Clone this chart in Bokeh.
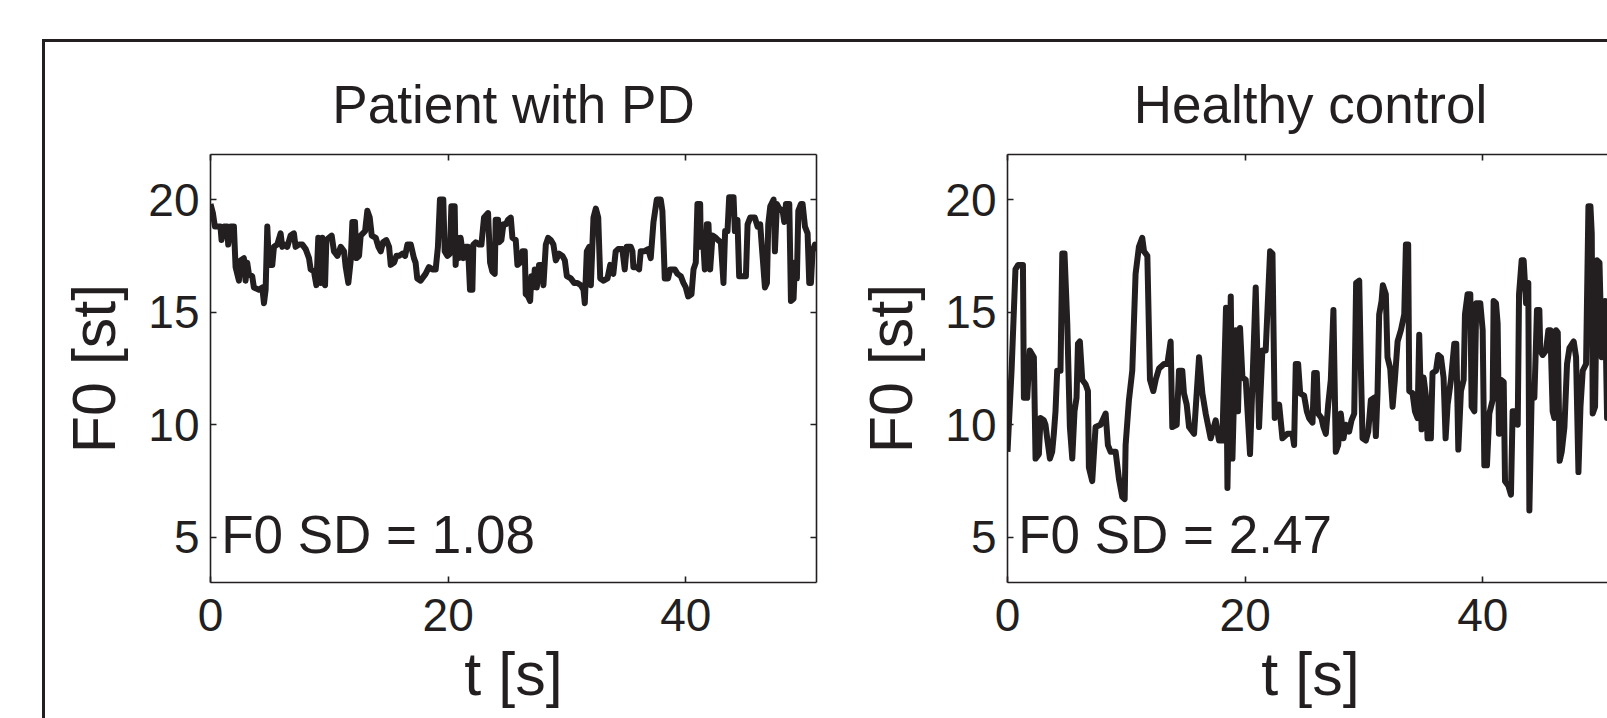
from bokeh.plotting import figure
from bokeh.layouts import row, column
from bokeh.models import (Range1d, LinearAxis, FixedTicker, Title, Spacer, Row,
                          GlobalInlineStyleSheet, ColumnDataSource)
from bokeh.core.properties import value
from bokeh.embed import file_html
from bokeh.resources import INLINE

INK = "#231f20"
FONT = "Liberation Sans"

# ---------------- data ----------------
x_ticks = [0, 20, 40]
y_ticks = [5, 10, 15, 20]
panel_titles = ["Patient with PD", "Healthy control"]
sd_texts = ["F0 SD = 1.08", "F0 SD = 2.47"]
x_label = "t [s]"
y_label = "F0 [st]"

pd_t = [0.0, 0.2, 0.37, 0.84, 0.93, 1.12, 1.41, 1.49, 1.69, 1.97,
        2.11, 2.39, 2.53, 2.81, 2.95, 3.09, 3.23, 3.51, 3.65, 4.07,
        4.36, 4.5, 4.64, 4.78, 4.92, 5.2, 5.34, 5.62, 5.9, 6.04,
        6.32, 6.46, 6.74, 7.02, 7.16, 7.45, 7.73, 8.01, 8.29, 8.43,
        8.71, 8.91, 9.07, 9.27, 9.41, 9.64, 9.75, 9.97, 10.2, 10.39,
        10.68, 10.96, 11.24, 11.38, 11.6, 11.8, 11.94, 12.16, 12.28, 12.5,
        12.64, 13.01, 13.2, 13.4, 13.57, 13.91, 14.13, 14.33, 14.52, 14.8,
        15.03, 15.17, 15.45, 15.65, 15.87, 16.15, 16.38, 16.57, 16.86, 17.12,
        17.26, 17.4, 17.68, 17.82, 18.1, 18.38, 18.67, 18.95, 19.14, 19.31,
        19.59, 19.71, 19.93, 20.15, 20.27, 20.55, 20.63, 20.77, 20.91, 21.05,
        21.28, 21.47, 21.67, 21.84, 22.04, 22.12, 22.32, 22.6, 22.8, 23.02,
        23.36, 23.53, 23.72, 23.92, 24.0, 24.2, 24.28, 24.48, 24.65, 24.85,
        25.04, 25.27, 25.41, 25.69, 25.83, 26.05, 26.25, 26.45, 26.53, 26.73,
        26.9, 27.01, 27.18, 27.29, 27.46, 27.65, 27.85, 28.02, 28.22, 28.41,
        28.64, 28.86, 29.06, 29.34, 29.62, 29.82, 29.99, 30.32, 30.6, 30.88,
        31.17, 31.39, 31.5, 31.67, 31.87, 32.01, 32.23, 32.43, 32.63, 32.8,
        33.08, 33.41, 33.64, 33.9, 34.1, 34.3, 34.66, 34.86, 35.03, 35.37,
        35.51, 35.59, 35.87, 36.07, 36.21, 36.49, 36.83, 37.05, 37.28, 37.56,
        37.89, 38.03, 38.12, 38.23, 38.51, 38.68, 39.07, 39.3, 39.58, 39.8,
        40.0, 40.2, 40.48, 40.65, 40.84, 40.98, 41.21, 41.26, 41.49, 41.6,
        41.77, 41.91, 42.05, 42.25, 42.53, 42.72, 42.95, 43.17, 43.31, 43.51,
        43.65, 44.02, 44.13, 44.35, 44.49, 45.06, 45.2, 45.42, 45.81, 46.04,
        46.26, 46.46, 46.66, 46.83, 46.94, 47.11, 47.39, 47.5, 47.67, 47.87,
        48.15, 48.29, 48.43, 48.71, 48.85, 49.07, 49.19, 49.35, 49.47, 49.69,
        49.83, 50.03, 50.25, 50.39, 50.53, 50.67, 50.87, 51.0]
pd_f0 = [19.8, 19.4, 18.8, 18.8, 18.2, 18.8, 18.8, 18.0, 18.8, 18.8,
         17.0, 16.4, 17.3, 17.4, 16.4, 17.2, 16.7, 16.6, 16.1, 16.0,
         16.1, 15.4, 16.0, 18.8, 17.1, 17.1, 17.9, 18.0, 18.5, 17.9,
         18.0, 17.9, 18.4, 18.5, 17.9, 18.0, 18.0, 17.8, 17.4, 16.9,
         16.8, 16.2, 18.3, 16.3, 18.3, 16.2, 18.2, 18.3, 18.4, 17.7,
         17.5, 17.9, 17.7, 17.0, 16.3, 17.3, 19.0, 19.0, 17.4, 17.5,
         18.4, 18.6, 19.5, 19.2, 18.4, 18.3, 17.9, 17.7, 18.1, 18.2,
         17.9, 17.1, 17.2, 17.5, 17.5, 17.6, 17.5, 18.0, 18.0, 17.4,
         17.2, 16.5, 16.4, 16.5, 16.7, 17.0, 16.9, 16.9, 17.9, 20.0,
         20.0, 17.7, 17.5, 17.6, 19.7, 19.7, 17.1, 18.3, 17.4, 18.3,
         17.4, 17.9, 17.9, 16.0, 16.0, 18.0, 18.1, 18.0, 18.0, 19.2,
         19.4, 17.2, 16.8, 16.7, 19.1, 19.1, 18.1, 18.2, 18.9, 18.9,
         19.1, 19.2, 18.3, 18.2, 17.1, 17.2, 17.7, 17.7, 15.8, 15.7,
         15.5, 16.6, 16.1, 16.9, 16.1, 17.1, 17.1, 16.2, 18.0, 18.3,
         18.2, 18.0, 17.3, 17.6, 17.5, 17.3, 16.6, 16.5, 16.3, 16.3,
         16.2, 16.0, 15.4, 17.7, 17.9, 16.2, 19.2, 19.6, 19.2, 16.5,
         16.4, 16.5, 17.1, 16.7, 17.7, 17.8, 17.8, 16.9, 17.9, 17.9,
         17.7, 17.0, 17.0, 16.9, 17.7, 17.7, 17.8, 17.4, 19.0, 20.0,
         20.0, 19.5, 18.2, 16.5, 16.5, 16.9, 16.9, 16.7, 16.6, 16.3,
         16.1, 15.7, 15.8, 16.9, 17.2, 19.8, 19.8, 17.9, 17.9, 16.9,
         18.9, 18.9, 16.9, 18.4, 18.3, 18.2, 18.1, 16.3, 18.6, 18.6,
         20.1, 20.1, 18.6, 19.1, 16.6, 16.6, 18.9, 19.2, 19.2, 18.8,
         18.9, 17.5, 16.1, 16.3, 18.9, 19.7, 20.0, 17.7, 19.8, 19.6,
         19.5, 19.0, 19.8, 19.8, 15.5, 15.6, 17.2, 16.5, 19.5, 19.8,
         19.8, 18.8, 18.5, 16.3, 16.3, 17.7, 18.0, 17.9]

hc_t = [0.0, 0.35, 0.67, 0.9, 1.3, 1.38, 1.66, 1.88, 2.22, 2.36,
        2.64, 2.78, 3.06, 3.2, 3.34, 3.57, 3.76, 3.9, 4.04, 4.18,
        4.46, 4.61, 4.8, 5.03, 5.25, 5.45, 5.64, 5.81, 5.93, 6.09,
        6.29, 6.57, 6.77, 6.85, 7.13, 7.41, 7.83, 8.26, 8.45, 8.68,
        9.1, 9.38, 9.66, 9.86, 9.94, 10.22, 10.5, 10.78, 11.06, 11.34,
        11.49, 11.77, 11.99, 12.27, 12.47, 12.75, 13.17, 13.45, 13.73, 13.87,
        14.24, 14.43, 14.71, 14.85, 15.08, 15.28, 15.7, 16.12, 16.4, 16.68,
        17.1, 17.52, 17.8, 18.08, 18.39, 18.51, 18.79, 18.93, 19.21, 19.4,
        19.57, 19.77, 20.05, 20.41, 20.89, 21.17, 21.45, 21.73, 22.1, 22.3,
        22.49, 22.86, 23.14, 23.56, 23.98, 24.12, 24.26, 24.46, 24.63, 24.96,
        25.19, 25.38, 25.67, 25.81, 26.03, 26.14, 26.42, 26.59, 26.79, 26.99,
        27.21, 27.43, 27.63, 27.83, 28.05, 28.28, 28.47, 28.75, 28.95, 29.18,
        29.34, 29.6, 29.74, 29.88, 30.16, 30.36, 30.58, 30.86, 31.0, 31.14,
        31.28, 31.48, 31.59, 31.84, 31.98, 32.21, 32.41, 32.6, 32.83, 33.11,
        33.39, 33.53, 33.72, 33.81, 34.09, 34.29, 34.51, 34.65, 34.85, 35.02,
        35.21, 35.35, 35.63, 35.77, 36.06, 36.25, 36.48, 36.7, 36.87, 37.04,
        37.32, 37.6, 37.77, 37.94, 38.16, 38.39, 38.5, 38.72, 38.95, 39.06,
        39.29, 39.45, 39.79, 39.99, 40.13, 40.35, 40.55, 40.83, 40.91, 41.11,
        41.25, 41.36, 41.53, 41.76, 41.87, 42.15, 42.37, 42.51, 42.71, 42.94,
        43.05, 43.27, 43.44, 43.64, 43.83, 43.92, 44.12, 44.34, 44.56, 44.76,
        44.84, 45.04, 45.32, 45.52, 45.69, 45.88, 46.02, 46.17, 46.31, 46.47,
        46.64, 46.87, 47.09, 47.29, 47.65, 47.85, 48.05, 48.22, 48.41, 48.69,
        48.89, 49.06, 49.17, 49.25, 49.45, 49.62, 49.82, 50.01, 50.29, 50.46,
        50.8]
hc_f0 = [8.8, 12.5, 16.9, 17.1, 17.1, 11.2, 11.2, 13.3, 13.0, 8.5,
         8.7, 10.3, 10.2, 10.0, 9.4, 8.5, 8.8, 9.6, 10.6, 12.4,
         12.4, 17.6, 17.6, 14.5, 9.9, 8.5, 10.6, 11.2, 13.6, 13.7,
         12.0, 11.8, 11.5, 8.1, 7.5, 9.9, 10.0, 10.5, 9.1, 8.8,
         8.8, 7.6, 6.8, 6.7, 9.1, 11.1, 12.4, 16.7, 17.9, 18.3,
         17.7, 17.5, 12.0, 11.5, 12.0, 12.5, 12.7, 12.7, 13.7, 9.9,
         10.0, 12.4, 12.4, 11.4, 10.9, 9.9, 9.6, 13.0, 11.4, 10.5,
         9.4, 10.2, 9.3, 9.3, 15.2, 7.2, 15.7, 8.5, 14.2, 10.6,
         14.3, 12.1, 12.0, 8.7, 16.1, 9.9, 13.3, 13.3, 17.7, 17.6,
         10.3, 10.9, 9.4, 9.6, 9.6, 9.1, 12.7, 12.7, 11.4, 11.3,
         10.6, 10.3, 10.1, 12.3, 12.3, 10.5, 10.3, 9.9, 9.6, 10.9,
         12.0, 15.1, 8.8, 9.1, 10.5, 9.4, 10.0, 9.7, 10.2, 10.5,
         16.3, 16.4, 12.5, 9.4, 9.3, 9.7, 11.1, 11.2, 9.5, 11.4,
         14.9, 15.5, 16.2, 15.8, 13.0, 12.5, 10.8, 12.0, 13.7, 14.2,
         14.9, 18.0, 18.0, 11.5, 11.4, 10.6, 10.3, 14.0, 9.8, 12.1,
         11.3, 9.4, 9.4, 12.3, 12.4, 13.1, 13.0, 12.1, 9.4, 10.9,
         12.0, 13.6, 13.6, 8.9, 11.5, 12.0, 14.9, 15.8, 15.8, 10.8,
         10.6, 15.4, 15.4, 14.2, 8.2, 8.2, 10.5, 11.1, 15.5, 15.4,
         14.5, 9.6, 12.0, 11.9, 7.5, 7.3, 6.9, 10.6, 10.6, 10.0,
         15.8, 17.3, 17.3, 15.4, 16.3, 6.2, 11.5, 11.2, 15.1, 15.1,
         13.3, 13.1, 13.3, 14.2, 14.2, 10.6, 10.3, 14.2, 14.1, 8.4,
         8.8, 9.9, 12.7, 13.4, 13.7, 13.0, 7.9, 10.8, 12.4, 12.7,
         19.7, 19.7, 18.5, 10.5, 10.8, 17.3, 17.2, 13.0, 15.5, 10.3,
         12.5]

# ---------------- layout constants ----------------
H = 740
FRAME_TOP = 112       # canvas y of the plot box top
FRAME_BOTTOM = 540    # canvas y of the plot box bottom
SD_X = 0.9            # position of the "F0 SD" note (data units)
SD_Y = 5.13
TITLE_STANDOFF = 42


def style_axis(ax, ticks, labels):
    ax.ticker = FixedTicker(ticks=ticks)
    ax.axis_line_color = INK
    ax.axis_line_width = 1.6
    ax.major_tick_line_color = INK
    ax.major_tick_line_width = 1.6
    ax.major_tick_in = 6
    ax.major_tick_out = 0
    ax.minor_tick_line_color = None
    ax.major_label_text_font = FONT
    if labels:
        ax.major_label_text_color = INK
        ax.major_label_text_font_size = "46px"
    else:
        ax.major_label_text_color = None
        ax.major_label_text_font_size = "0px"
    ax.axis_label_text_font = FONT
    ax.axis_label_text_font_size = "61px"
    ax.axis_label_text_font_style = "normal"
    ax.axis_label_text_color = INK


def make_panel(t, f0, title, sd_text, width, b_left, b_right):
    p = figure(width=width, height=H, output_backend="svg", toolbar_location=None,
               x_range=Range1d(0, 51), y_range=Range1d(3, 22),
               x_axis_location=None, y_axis_location=None,
               min_border_left=b_left, min_border_right=b_right,
               min_border_top=FRAME_TOP, min_border_bottom=H - FRAME_BOTTOM)
    p.outline_line_color = None
    p.grid.visible = False
    p.background_fill_color = "white"
    p.border_fill_color = "white"

    bottom = LinearAxis(axis_label=x_label)
    style_axis(bottom, x_ticks, True)
    bottom.major_label_standoff = 16
    bottom.axis_label_standoff = 6
    left = LinearAxis(axis_label=y_label)
    style_axis(left, y_ticks, True)
    left.major_label_standoff = 11
    left.axis_label_standoff = 17
    top = LinearAxis()
    style_axis(top, x_ticks, False)
    top.major_label_standoff = 0
    right = LinearAxis()
    style_axis(right, y_ticks, False)
    right.major_label_standoff = 0
    p.add_layout(bottom, "below")
    p.add_layout(left, "left")
    p.add_layout(top, "above")
    p.add_layout(right, "right")

    ttl = Title(text=title, align="center", text_font=FONT, text_font_size="53px",
                text_font_style="normal", text_color=INK)
    if "standoff" in Title.properties():
        ttl.standoff = TITLE_STANDOFF
    p.title = ttl

    src = ColumnDataSource(data=dict(t=t, f0=f0))
    p.line("t", "f0", source=src, line_color=INK, line_width=6, line_join="round")

    p.text(x=[SD_X], y=[SD_Y], text=[sd_text], text_font=value(FONT),
           text_font_size="53px", text_color=INK, text_baseline="alphabetic",
           text_align="left")
    return p


# panels: the bordered box starts at page (45, 42)
p1 = make_panel(pd_t, pd_f0, panel_titles[0], sd_texts[0], 793, 165, 22)
p2 = make_panel(hc_t, hc_f0, panel_titles[1], sd_texts[1], 800, 169, 25)

boxed = Row(children=[p1, p2],
            styles={"border-left": f"3px solid {INK}", "border-top": f"3px solid {INK}"})

layout = column(Spacer(width=10, height=39),
                row(Spacer(width=42, height=10), boxed),
                stylesheets=[GlobalInlineStyleSheet(css="html, body { overflow: hidden; }")])

open("out.html", "w").write(file_html(layout, INLINE))
